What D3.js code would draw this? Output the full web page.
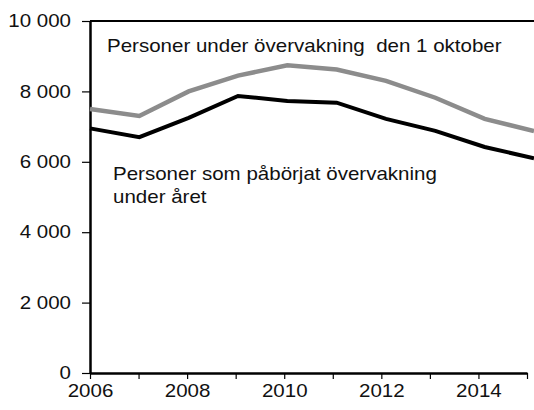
<!DOCTYPE html>
<html>
<head>
<meta charset="utf-8">
<script src="https://cdn.jsdelivr.net/npm/d3@7"></script>
<style>
  body { margin: 0; background: #fff; }
  svg { display: block; font-family: "Liberation Sans", Arial, sans-serif; }
</style>
</head>
<body>
<svg id="chart"></svg>
<script>
// Data
const years = [2006, 2007, 2008, 2009, 2010, 2011, 2012, 2013, 2014, 2015];
const underOvervakning = [7500, 7300, 8000, 8450, 8740, 8620, 8300, 7820, 7220, 6870];
const paborjat = [6950, 6700, 7250, 7870, 7730, 7680, 7220, 6880, 6420, 6100];
const yTicks = [0, 2000, 4000, 6000, 8000, 10000];
const xTicks = [2006, 2007, 2008, 2009, 2010, 2011, 2012, 2013, 2014, 2015];
const xTickLabels = [2006, 2008, 2010, 2012, 2014];

const width = 534, height = 410;
const margin = {top: 21, right: 0, bottom: 37, left: 90};
const fontSize = 18;
const stretch = 1.14; // the source text is a bit wider than Arial

const svg = d3.select('#chart')
    .attr('width', width)
    .attr('height', height);

const y = d3.scaleLinear()
    .domain([0, 10000])
    .range([height - margin.bottom, margin.top]);

// line points spread to the right edge, axis ticks slightly tighter
const x = d3.scaleLinear()
    .domain([2006, 2015])
    .range([margin.left, width - margin.right]);

const xAxisScale = d3.scaleLinear()
    .domain([2006, 2015])
    .range([margin.left, 527]);

// y axis
const yAxisG = svg.append('g')
    .attr('transform', `translate(${margin.left},0)`)
    .call(d3.axisLeft(y).tickValues(yTicks).tickSize(8).tickSizeOuter(0)
      .tickFormat(d => d3.format(',')(d).replace(/,/g, ' ')));
yAxisG.select('.domain').attr('stroke-width', 2.5);
yAxisG.selectAll('.tick line').attr('stroke-width', 1.2);
yAxisG.selectAll('.tick text')
    .attr('x', -19 / stretch)
    .attr('transform', `scale(${stretch},1)`)
    .attr('font-size', fontSize)
    .attr('font-family', '"Liberation Sans", Arial, sans-serif')
    .attr('fill', '#111');

// x axis
const xAxisG = svg.append('g')
    .attr('transform', `translate(0,${height - margin.bottom})`)
    .call(d3.axisBottom(xAxisScale).tickValues(xTicks).tickSize(6).tickSizeOuter(0)
      .tickFormat(d => xTickLabels.includes(d) ? d : ''));
xAxisG.select('.domain').attr('stroke-width', 2.5);
xAxisG.selectAll('.tick line').attr('stroke-width', 1.2);
xAxisG.selectAll('.tick text')
    .attr('y', 11)
    .attr('transform', `scale(${stretch},1)`)
    .attr('font-size', fontSize)
    .attr('font-family', '"Liberation Sans", Arial, sans-serif')
    .attr('fill', '#111');

// top frame line
svg.append('line')
    .attr('x1', margin.left).attr('x2', width)
    .attr('y1', y(10000)).attr('y2', y(10000))
    .attr('stroke', '#000').attr('stroke-width', 2);

const line = d3.line()
    .x((d, i) => x(years[i]))
    .y(d => y(d));

svg.append('path')
    .datum(underOvervakning)
    .attr('d', line)
    .attr('fill', 'none')
    .attr('stroke', '#8c8c8c')
    .attr('stroke-width', 4.5);

svg.append('path')
    .datum(paborjat)
    .attr('d', line)
    .attr('fill', 'none')
    .attr('stroke', '#000')
    .attr('stroke-width', 4);

// annotations
svg.append('text')
    .attr('transform', `translate(107,52) scale(${stretch},1)`)
    .attr('font-size', fontSize)
    .attr('fill', '#111')
    .attr('xml:space', 'preserve')
    .text('Personer under övervakning  den 1 oktober');

const t2 = svg.append('text')
    .attr('transform', `translate(113,0) scale(${stretch},1)`)
    .attr('font-size', fontSize)
    .attr('fill', '#111');
t2.append('tspan').attr('x', 0).attr('y', 180).text('Personer som påbörjat övervakning');
t2.append('tspan').attr('x', 0).attr('y', 203).text('under året');
</script>
</body>
</html>
